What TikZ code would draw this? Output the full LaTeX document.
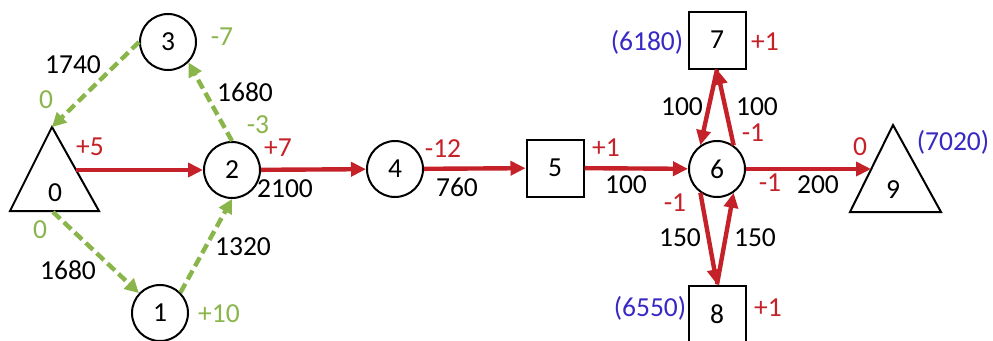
\documentclass[tikz,border=0pt]{standalone}
\usepackage{fontspec}
\setmainfont{Carlito}
\usetikzlibrary{arrows.meta}
\definecolor{flowred}{RGB}{196,33,40}
\definecolor{flowgreen}{RGB}{137,181,75}
\definecolor{flowblue}{RGB}{56,40,196}

\begin{document}
\begin{tikzpicture}[x=1pt, y=-1pt,
  every node/.style={font=\fontsize{27.5}{32}\selectfont, inner sep=0pt},
  vtx/.style={draw, circle, line width=2pt, minimum size=56pt},
  sq/.style={draw, rectangle, line width=2pt, minimum size=57pt},
  tri/.style={draw, line width=2pt, line join=miter},
  flow/.style={flowred, line width=4.4pt, -{Triangle[length=15pt,width=14pt]}},
  alt/.style={flowgreen, line width=4.4pt, dash pattern=on 10pt off 5pt,
    -{Triangle[length=14pt,width=14pt]}},
  rl/.style={text=flowred}, gl/.style={text=flowgreen}, bl/.style={text=flowblue}]
\useasboundingbox (0,0) rectangle (993,340);

\draw[tri] (52,127) -- (99,211) -- (10,211) -- cycle;
\draw[tri] (893,125) -- (941,212) -- (850,212) -- cycle;
\coordinate (a0) at (52,127);
\coordinate (e0) at (76,170);
\coordinate (b0) at (53,212);
\coordinate (w9) at (871,169);

\node (n0) at (55,193) {0};
\node[vtx] (n1) at (160,313) {1};
\node[vtx] (n2) at (232,170) {2};
\node[vtx] (n3) at (168,42) {3};
\node[vtx] (n4) at (395,169) {4};
\node[sq] (n5) at (555,168) {5};
\node[vtx] (n6) at (717,169) {6};
\node[sq] (n7) at (717,40) {7};
\node[sq] (n8) at (717,314) {8};
\node (n9) at (893,190) {9};

\draw[flow] (e0) -- (n2);
\draw[flow] (n2) -- (n4);
\draw[flow] (n4) -- (n5);
\draw[flow] (n5) -- (n6);
\draw[flow] (n6) -- (w9);
\draw[flow] (n7.south) -- (n6.125);
\draw[flow] (n6.55) -- (n7.south);
\draw[flow] (n6.235) -- (n8.north);
\draw[flow] (n8.north) -- (n6.305);

\draw[alt] (n3.west) -- (a0);
\draw[alt] (n2.north) -- (n3.south east);
\draw[alt] (b0) -- (n1);
\draw[alt] (n1.north east) -- (n2.south);

\node (c03) at (73,65) {1740};
\node (c23) at (245,92) {1680};
\node (c01) at (68,270) {1680};
\node (c12) at (243,247) {1320};
\node (c24) at (285,189) {2100};
\node (c45) at (457,187) {760};
\node (c56) at (626,185) {100};
\node (c69) at (818,185) {200};
\node (c76) at (682,107) {100};
\node (c67) at (757,107) {100};
\node (c68) at (680,238) {150};
\node (c86) at (755,238) {150};

\node[gl] (s3) at (222,37) {-7};
\node[gl] (s2g) at (258,125) {-3};
\node[gl] (s0a) at (46,100) {0};
\node[gl] (s0b) at (40,230) {0};
\node[gl] (s1) at (219,314) {+10};
\node[rl] (s0) at (90,147) {+5};
\node[rl] (s2) at (278,148) {+7};
\node[rl] (s4) at (443,149) {-12};
\node[rl] (s5) at (606,148) {+1};
\node[rl] (s6a) at (753,133) {-1};
\node[rl] (s6b) at (770,183) {-1};
\node[rl] (s6c) at (675,203) {-1};
\node[rl] (s7) at (765,42) {+1};
\node[rl] (s8) at (768,308) {+1};
\node[rl] (s9) at (860,147) {0};

\node[bl] (p7) at (647,42) {(6180)};
\node[bl] (p8) at (650,308) {(6550)};
\node[bl] (p9) at (953,142) {(7020)};
\end{tikzpicture}
\end{document}
